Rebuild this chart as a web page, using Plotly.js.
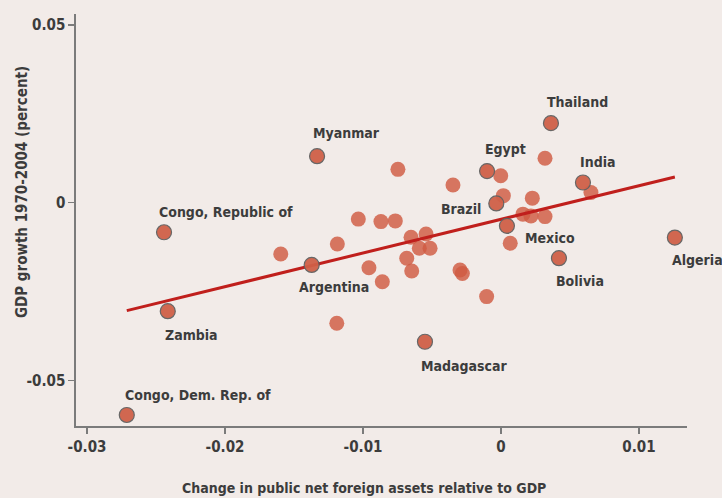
<!DOCTYPE html>
<html><head><meta charset="utf-8">
<script src="https://cdn.plot.ly/plotly-3.0.1.min.js"></script>
<style>html,body{margin:0;padding:0;background:#f2ebe8;}</style>
</head><body>
<div id="chart" style="width:722px;height:498px;"></div>
<script>
// Labeled countries
const labelNames = ["Thailand","Myanmar","Egypt","India","Brazil","Mexico","Bolivia","Algeria",
  "Congo, Republic of","Argentina","Zambia","Congo, Dem. Rep. of","Madagascar"];
const labelX = [0.00362,-0.01333,-0.00101,0.00594,-0.00034,0.00043,0.00420,0.01260,
  -0.02442,-0.01372,-0.02415,-0.02712,-0.00551];
const labelY = [0.0224,0.0131,0.0089,0.0057,-0.0002,-0.0065,-0.0156,-0.0098,
  -0.0083,-0.0175,-0.0305,-0.0597,-0.0391];
// Unlabeled countries
const otherX = [-0.00747,-0.00348,-0.00002,0.00017,0.00319,0.00227,0.00652,0.00159,0.00217,0.00319,
  0.00067,-0.01034,-0.00870,-0.00766,-0.01186,-0.00652,-0.00543,-0.00592,-0.00514,-0.00683,
  -0.00957,-0.00647,-0.00860,-0.00297,-0.00280,-0.00104,-0.01596,-0.01190];
const otherY = [0.0094,0.0050,0.0076,0.0020,0.0125,0.0013,0.0029,-0.0032,-0.0037,-0.0039,
  -0.0114,-0.0046,-0.0053,-0.0051,-0.0116,-0.0097,-0.0088,-0.0128,-0.0128,-0.0156,
  -0.0183,-0.0192,-0.0222,-0.0189,-0.0199,-0.0264,-0.0144,-0.0339];
// Fitted line coefficients
const fitSlope = 0.9466;
const fitIntercept = -0.00467;
const xTickVals = [-0.03,-0.02,-0.01,0,0.01];
const xTickText = ["-0.03","-0.02","-0.01","0","0.01"];
const yTickVals = [-0.05,0,0.05];
const yTickText = ["-0.05","0","0.05"];
const xTitle = "Change in public net foreign assets relative to GDP";
const yTitle = "GDP growth 1970-2004 (percent)";

// label placement (pixels): [anchor, xshift, yshift]
const labelPos = [["left",-6,21],["left",-6,23],["left",-4,22],["left",-5,21],["right",-13,-6],
  ["left",16,-12],["left",-5,-23],["left",-5,-22],["left",-7,20],["left",-15,-22],["left",-5,-24],
  ["left",-4,20],["left",-6,-24]];

const allX = labelX.concat(otherX);
const xmin = Math.min(...allX), xmax = Math.max(...allX);
const fitX = [xmin, xmax];
const fitY = fitX.map(v => fitIntercept + fitSlope * v);

const FONT = "'DejaVu Sans Condensed','Liberation Sans Narrow',sans-serif";
const TXT = "#3c3c3c";
const PT = "#d05a42";

const traces = [
  {x: otherX, y: otherY, type: "scatter", mode: "markers",
   marker: {size: 15, color: PT, opacity: 0.82, line: {width: 0}}, hoverinfo: "skip"},
  {x: fitX, y: fitY, type: "scatter", mode: "lines",
   line: {color: "#c01f1c", width: 3}, hoverinfo: "skip"},
  {x: labelX, y: labelY, type: "scatter", mode: "markers",
   marker: {size: 15, color: "#d06048", opacity: 0.95, line: {width: 1.2, color: "#606060"}}, hoverinfo: "skip"}
];

const annotations = labelNames.map((n, i) => ({
  x: labelX[i], y: labelY[i], xref: "x", yref: "y", text: n, showarrow: false,
  xanchor: labelPos[i][0], yanchor: "middle", xshift: labelPos[i][1], yshift: labelPos[i][2],
  font: {family: FONT, size: 14, color: TXT, weight: "bold"}
}));
annotations.push({xref: "paper", yref: "paper", x: (364-76)/611, y: -(488-426)/412, text: xTitle,
  showarrow: false, xanchor: "center", yanchor: "middle", font: {family: FONT, size: 14, color: TXT, weight: "bold"}});
annotations.push({xref: "paper", yref: "paper", x: -(76-22)/611, y: (426-192)/412, text: yTitle,
  showarrow: false, textangle: -90, xanchor: "center", yanchor: "middle", font: {family: FONT, size: 15, color: TXT, weight: "bold"}});

const axisCommon = {showgrid: false, zeroline: false, showline: true, linecolor: "#7b7b7b", linewidth: 1.6,
  ticks: "outside", ticklen: 6, tickwidth: 1.4, tickcolor: "#7b7b7b",
  tickfont: {family: FONT, size: 15, color: TXT, weight: "bold"}, fixedrange: true};

const layout = {
  width: 722, height: 498,
  paper_bgcolor: "#f2ebe8", plot_bgcolor: "#f2ebe8",
  margin: {l: 76, r: 35, t: 14, b: 72},
  showlegend: false,
  xaxis: Object.assign({}, axisCommon, {range: [-0.0308, 0.01348], tickvals: xTickVals, ticktext: xTickText}),
  yaxis: Object.assign({}, axisCommon, {range: [-0.0628, 0.0531], tickvals: yTickVals, ticktext: yTickText}),
  annotations: annotations
};
Plotly.newPlot("chart", traces, layout, {staticPlot: true, displayModeBar: false});
</script>
</body></html>
